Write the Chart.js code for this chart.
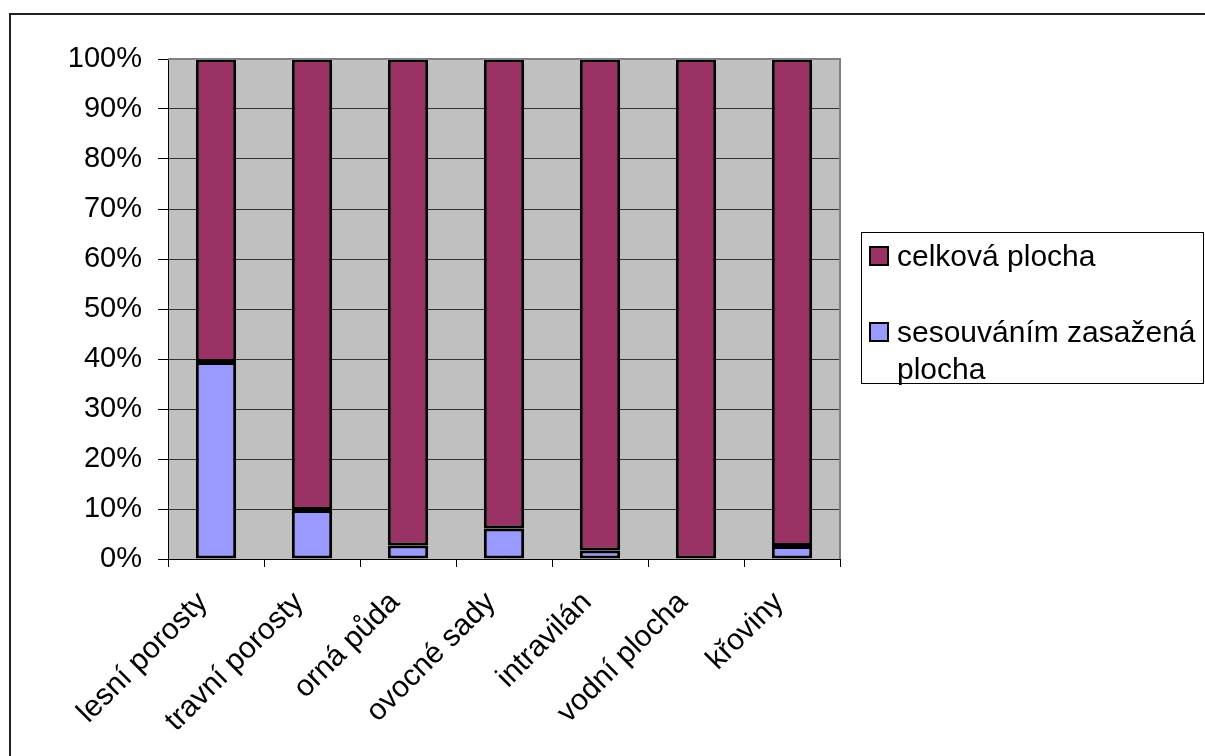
<!DOCTYPE html>
<html lang="cs">
<head>
<meta charset="utf-8">
<title>Sesuvy podle využití území</title>
<script src="https://cdn.jsdelivr.net/npm/chart.js@4/dist/chart.umd.min.js"></script>
<style>
  html, body { margin: 0; padding: 0; background: #fff; overflow: hidden; }
  #wrap { position: relative; width: 1205px; height: 756px; }
  #frame { position: absolute; left: 9px; top: 13px; width: 1300px; height: 900px; border: 2px solid #222; box-sizing: border-box; }
  #chartCanvas { position: absolute; left: 0; top: 0; }
  #legend {
    position: absolute; left: 861px; top: 232px; width: 343px; height: 152px;
    border: 1px solid #000; box-sizing: border-box; background: #fff;
    font-family: "Liberation Sans", Arial, sans-serif; font-size: 30px; line-height: 37px; color: #000;
    padding-top: 4px;
  }
  #legend .item { display: flex; align-items: flex-start; margin-bottom: 39px; }
  #legend .sw { width: 16px; height: 16px; border: 2px solid #000; margin: 9px 8px 0 7px; flex: none; }
  #legend .txt { width: 305px; }
</style>
</head>
<body>
<div id="wrap">
  <div id="frame"></div>
  <canvas id="chartCanvas" width="1205" height="756"></canvas>
  <div id="legend"></div>
</div>
<script>
// categories (land use types)
const categories = ['lesní porosty', 'travní porosty', 'orná půda', 'ovocné sady', 'intravilán', 'vodní plocha', 'křoviny'];

// share of each category, in percent (100% stacked)
const zasazenaPlocha = [39.4, 9.8, 2.7, 6.1, 1.7, 0, 2.6];
const celkovaPlocha = [60.6, 90.2, 97.3, 93.9, 98.3, 100, 97.4];

const seriesNames = ['sesouváním zasažená plocha', 'celková plocha'];
const seriesColors = ['#9999FF', '#993366'];

const yTicks = [0, 10, 20, 30, 40, 50, 60, 70, 80, 90, 100];

const font = { family: '"Liberation Sans", Arial, sans-serif', size: 29 };
const xFont = { family: '"Liberation Sans", Arial, sans-serif', size: 30 };

/**
 * Gray plot area like the old spreadsheet charts
 */
const plotArea = {
    id: 'plotArea',
    beforeDraw(chart) {
        const { ctx, chartArea: a } = chart;
        ctx.save();
        ctx.fillStyle = '#C0C0C0';
        ctx.fillRect(a.left, a.top, a.right - a.left, a.bottom - a.top);
        ctx.restore();
    },
    afterDatasetsDraw(chart) {
        const { ctx, chartArea: a } = chart;
        ctx.save();
        ctx.strokeStyle = '#808080';
        ctx.lineWidth = 2;
        ctx.beginPath();
        ctx.moveTo(a.left, a.top);
        ctx.lineTo(a.right, a.top);
        ctx.lineTo(a.right, a.bottom);
        ctx.stroke();
        ctx.restore();
    }
};

function renderChart() {
    const ctx = document.getElementById('chartCanvas').getContext('2d');
    const chart = new Chart(ctx, {
        type: 'bar',
        data: {
            labels: categories,
            datasets: [zasazenaPlocha, celkovaPlocha].map((values, i) => ({
                label: seriesNames[i],
                data: values,
                backgroundColor: seriesColors[i],
                borderColor: '#000',
                borderWidth: 3,
                borderSkipped: false,
                barPercentage: 0.42,
                categoryPercentage: 1
            }))
        },
        options: {
            responsive: false,
            devicePixelRatio: 1,
            animation: false,
            layout: { padding: { left: 0, top: 59, right: 365, bottom: 0 } },
            plugins: { legend: { display: false }, tooltip: { enabled: false } },
            scales: {
                x: {
                    stacked: true,
                    grid: { drawOnChartArea: false, drawTicks: true, tickLength: 8, color: '#000', offset: true },
                    border: { color: '#000', width: 1 },
                    ticks: { font: xFont, color: '#000', minRotation: 45, maxRotation: 45, autoSkip: false, padding: 18, labelOffset: -13 },
                    afterFit: s => { s.height = 197; }
                },
                y: {
                    stacked: true,
                    min: 0,
                    max: 100,
                    afterBuildTicks: s => { s.ticks = yTicks.map(v => ({ value: v })); },
                    grid: { color: '#333', tickLength: 10, tickColor: '#000' },
                    border: { color: '#000', width: 1 },
                    ticks: { font, color: '#000', padding: 16, callback: v => v + '%' },
                    afterFit: s => { s.width = 168; }
                }
            }
        },
        plugins: [plotArea]
    });

    // legend box, upper series listed first
    const legend = document.getElementById('legend');
    chart.data.datasets.slice().reverse().forEach(ds => {
        const item = document.createElement('div');
        item.className = 'item';
        const sw = document.createElement('span');
        sw.className = 'sw';
        sw.style.background = ds.backgroundColor;
        const txt = document.createElement('span');
        txt.className = 'txt';
        txt.textContent = ds.label;
        item.appendChild(sw);
        item.appendChild(txt);
        legend.appendChild(item);
    });
}

document.addEventListener('DOMContentLoaded', renderChart);
</script>
</body>
</html>
